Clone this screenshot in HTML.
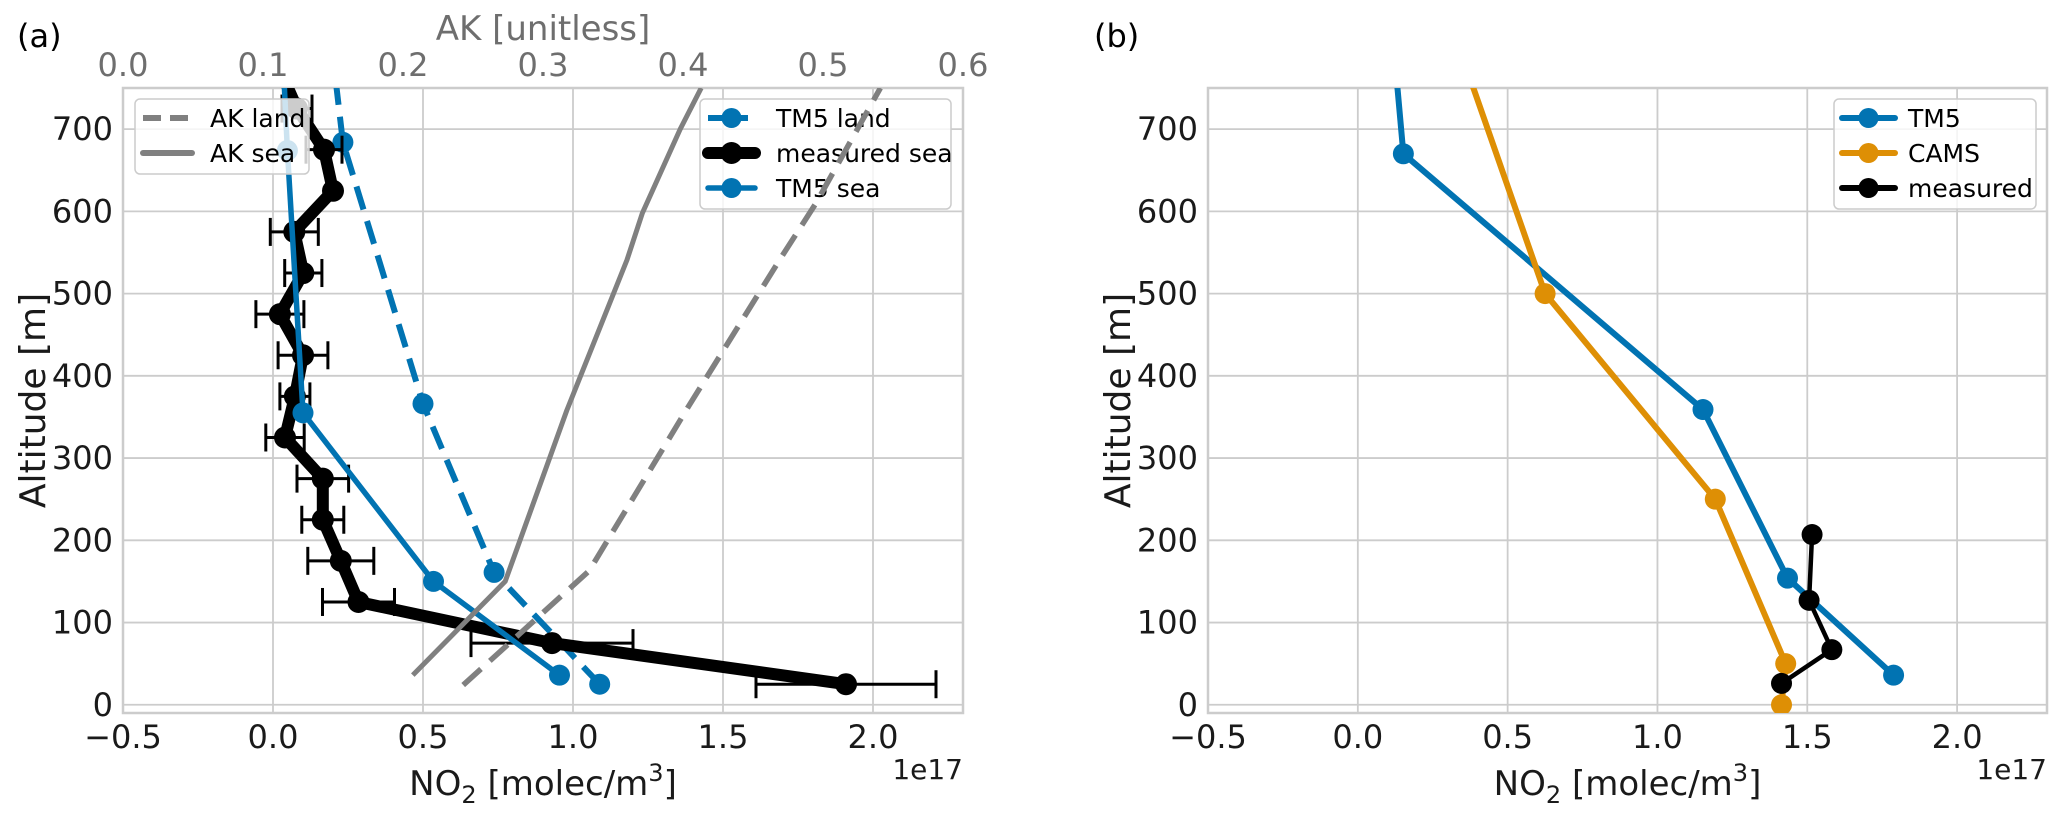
<!DOCTYPE html>
<html><head><meta charset="utf-8">
<style>
html,body{margin:0;padding:0;background:#fff;}
svg{display:block;font-family:"DejaVu Sans","Liberation Sans",sans-serif;}
</style></head>
<body>
<svg id="fig" width="2067" height="815" viewBox="0 0 2067 815" xmlns="http://www.w3.org/2000/svg"></svg>
<script>
// ---- Panel (a) data ----
const measSeaAlt = [25, 75, 125, 175, 225, 275, 325, 375, 425, 475, 525, 575, 625, 675, 725, 775];
const measSeaNO2 = [1.91, 0.93, 0.285, 0.226, 0.166, 0.166, 0.04, 0.073, 0.10, 0.023, 0.101, 0.071, 0.20, 0.17, 0.08, 0.02];
const measSeaErr = [0.30, 0.27, 0.12, 0.11, 0.07, 0.086, 0.064, 0.05, 0.083, 0.08, 0.062, 0.08, 0.0, 0.06, 0.05, 0.0];
const tm5SeaAlt = [36, 150, 355, 674, 850];
const tm5SeaNO2 = [0.955, 0.535, 0.10, 0.048, 0.025];
const tm5LandAlt = [25, 161, 366, 684, 850];
const tm5LandNO2 = [1.089, 0.737, 0.50, 0.233, 0.18];
const akSeaAlt = [36, 150, 358, 541, 598, 700, 750];
const akSeaVal = [0.207, 0.273, 0.317, 0.36, 0.371, 0.398, 0.413];
const akLandAlt = [24, 163, 363, 541, 610, 750];
const akLandVal = [0.243, 0.333, 0.404, 0.469, 0.495, 0.541];
// ---- Panel (b) data ----
const bTm5Alt = [36, 154, 359, 670, 800];
const bTm5NO2 = [1.788, 1.434, 1.152, 0.152, 0.12];
const bCamsAlt = [0, 50, 250, 500, 850];
const bCamsNO2 = [1.414, 1.428, 1.193, 0.625, 0.29];
const bMeasAlt = [26, 67, 127, 207];
const bMeasNO2 = [1.414, 1.582, 1.506, 1.516];
// ---- ticks ----
const xTicks = [-0.5, 0.0, 0.5, 1.0, 1.5, 2.0];
const xTickLabels = ["\u22120.5", "0.0", "0.5", "1.0", "1.5", "2.0"];
const yTicks = [0, 100, 200, 300, 400, 500, 600, 700];
const akTicks = [0.0, 0.1, 0.2, 0.3, 0.4, 0.5, 0.6];
const akTickLabels = ["0.0", "0.1", "0.2", "0.3", "0.4", "0.5", "0.6"];

const NS = "http://www.w3.org/2000/svg";
const svg = document.getElementById("fig");
const BLUE = "#0173b2", ORANGE = "#de8f05", GRAY = "#808080", GRID = "#cccccc";
const TOP = 88, BOT = 713, YMIN = -10, YMAX = 750, XMIN = -0.5, XMAX = 2.3;
const TICKFS = 32, TITLEFS = 34;

function mk(tag, attrs, parent) {
  const e = document.createElementNS(NS, tag);
  for (const k in attrs) e.setAttribute(k, attrs[k]);
  (parent || svg).appendChild(e);
  return e;
}
function txt(s, x, y, attrs, parent) {
  const t = mk("text", Object.assign({x: x, y: y, "font-size": TICKFS, fill: "#1a1a1a"}, attrs), parent);
  t.textContent = s;
  return t;
}

function makePanel(left, right, id) {
  const P = {left, right};
  P.X = v => left + (v - XMIN) / (XMAX - XMIN) * (right - left);
  P.Y = a => BOT - (a - YMIN) / (YMAX - YMIN) * (BOT - TOP);
  const g = mk("g", {});
  
  
  const clip = mk("clipPath", {id: id + "-clip"});
  mk("rect", {x: left, y: TOP, width: right - left, height: BOT - TOP}, clip);
  P.clip = "url(#" + id + "-clip)";
  xTicks.forEach((v, i) => {
    const l = mk("line", {x1: P.X(v), x2: P.X(v), y1: TOP, y2: BOT, stroke: GRID, "stroke-width": 1.8}, g);
    
    
    const t = txt(xTickLabels[i], P.X(v), 748, {"text-anchor": "middle"}, g);
    
    
  });
  yTicks.forEach(v => {
    const l = mk("line", {x1: left, x2: right, y1: P.Y(v), y2: P.Y(v), stroke: GRID, "stroke-width": 1.8}, g);
    
    
    const t = txt(String(v), left - 10, P.Y(v) + 11, {"text-anchor": "end"}, g);
    
    
  });
  const fr = mk("rect", {x: left, y: TOP, width: right - left, height: BOT - TOP, fill: "none", stroke: GRID, "stroke-width": 2.5}, g);
  
  
  const yl = txt("Altitude [m]", 0, 0, {"font-size": 36, "text-anchor": "middle", transform: "translate(" + (left - 78) + "," + ((TOP + BOT) / 2) + ") rotate(-90)"}, g);
  
  
  const xl = txt("", (left + right) / 2, 795, {"font-size": TITLEFS, "text-anchor": "middle"}, g);
  xl.innerHTML = 'NO<tspan font-size="24" dy="8">2</tspan><tspan dy="-8"> [molec/m</tspan><tspan font-size="24" dy="-14">3</tspan><tspan dy="14">]</tspan>';
  
  
  const off = txt("1e17", right, 779, {"text-anchor": "end", "font-size": 28}, g);
  
  
  return P;
}

function series(P, xs, alts, color, width, opts) {
  opts = opts || {};
  const g = mk("g", {"clip-path": P.clip});
  const pts = xs.map((v, i) => P.X(v) + "," + P.Y(alts[i])).join(" ");
  const pl = mk("polyline", {points: pts, fill: "none", stroke: color, "stroke-width": width, "stroke-linejoin": "round", "stroke-linecap": opts.dash ? "butt" : "round"}, g);
  if (opts.dash) pl.setAttribute("stroke-dasharray", opts.dash);
  
  
  if (opts.r) {
    xs.forEach((v, i) => {
      const c = mk("circle", {cx: P.X(v), cy: P.Y(alts[i]), r: opts.r, fill: color}, g);
      
      
    });
  }
  return g;
}

function legend(x, y, w, h, items) {
  const g = mk("g", {});
  
  
  mk("rect", {x: x, y: y, width: w, height: h, rx: 5, fill: "#ffffff", "fill-opacity": 0.8, stroke: "#cccccc", "stroke-width": 1.5}, g);
  items.forEach((it, i) => {
    const cy = y + 19 + i * 35;
    const e = mk("g", {}, g);
    
    
    const l = mk("line", {x1: x + 8, x2: x + 8 + it.len, y1: cy, y2: cy, stroke: it.color, "stroke-width": it.w, "stroke-linecap": it.dash ? "butt" : "round"}, e);
    if (it.dash) l.setAttribute("stroke-dasharray", it.dash);
    if (it.r) mk("circle", {cx: x + 8 + it.len / 2, cy: cy, r: it.r, fill: it.color}, e);
    txt(it.label, x + it.tx, cy + 9, {"font-size": 25, fill: "#000"}, e);
  });
}

// ===== Panel (a) =====
const A = makePanel(123, 963, "pa");
series(A, tm5LandNO2, tm5LandAlt, BLUE, 6, {dash: "24 12", r: 10.5, name: "tm5-land"});
(function () {
  const g = mk("g", {"clip-path": A.clip});
  
  
  measSeaNO2.forEach((v, i) => {
    const e = measSeaErr[i];
    if (e <= 0) return;
    const y = A.Y(measSeaAlt[i]);
    mk("line", {x1: A.X(v - e), x2: A.X(v + e), y1: y, y2: y, stroke: "#000", "stroke-width": 3}, g);
    mk("line", {x1: A.X(v - e), x2: A.X(v - e), y1: y - 14, y2: y + 14, stroke: "#000", "stroke-width": 3}, g);
    mk("line", {x1: A.X(v + e), x2: A.X(v + e), y1: y - 14, y2: y + 14, stroke: "#000", "stroke-width": 3}, g);
  });
})();
series(A, measSeaNO2, measSeaAlt, "#000", 12, {r: 11, name: "measured-sea"});
series(A, tm5SeaNO2, tm5SeaAlt, BLUE, 5.5, {r: 10.5, name: "tm5-sea"});
legend(700, 99, 251, 110, [
  {label: "TM5 land", color: BLUE, w: 6, dash: "16 8", r: 10, len: 47, tx: 76},
  {label: "measured sea", color: "#000", w: 12, r: 11, len: 47, tx: 76},
  {label: "TM5 sea", color: BLUE, w: 5.5, r: 10, len: 47, tx: 76}
]);
const AKX = v => 123 + v / 0.6 * 840;
(function () {
  const g = mk("g", {"clip-path": A.clip});
  const s = mk("polyline", {points: akSeaVal.map((v, i) => AKX(v) + "," + A.Y(akSeaAlt[i])).join(" "), fill: "none", stroke: GRAY, "stroke-width": 5, "stroke-linejoin": "round"}, g);
  
  
  const l = mk("polyline", {points: akLandVal.map((v, i) => AKX(v) + "," + A.Y(akLandAlt[i])).join(" "), fill: "none", stroke: GRAY, "stroke-width": 5.5, "stroke-dasharray": "24 12"}, g);
  
  
  akTicks.forEach((v, i) => {
    const t = txt(akTickLabels[i], AKX(v), 76, {"text-anchor": "middle", fill: "#6e6e6e"});
    
    
  });
  const at = txt("AK [unitless]", 543, 40, {"text-anchor": "middle", "font-size": TITLEFS, fill: "#6e6e6e"});
  
  
})();
legend(135, 99, 174, 75, [
  {label: "AK land", color: GRAY, w: 6, dash: "18 9", len: 49, tx: 75},
  {label: "AK sea", color: GRAY, w: 6, len: 49, tx: 75}
]);
const la = txt("(a)", 17, 47, {"font-size": 32, fill: "#000"});



// ===== Panel (b) =====
const B = makePanel(1208, 2047, "pb");
series(B, bTm5NO2, bTm5Alt, BLUE, 6, {r: 10.5, name: "b-tm5"});
series(B, bCamsNO2, bCamsAlt, ORANGE, 6, {r: 10.5, name: "b-cams"});
series(B, bMeasNO2, bMeasAlt, "#000", 4.5, {r: 10.5, name: "b-measured"});
legend(1834, 99, 202, 110, [
  {label: "TM5", color: BLUE, w: 6, r: 10, len: 53, tx: 74},
  {label: "CAMS", color: ORANGE, w: 6, r: 10, len: 53, tx: 74},
  {label: "measured", color: "#000", w: 6, r: 10, len: 53, tx: 74}
]);
const lb = txt("(b)", 1094, 47, {"font-size": 32, fill: "#000"});


</script>
</body></html>
